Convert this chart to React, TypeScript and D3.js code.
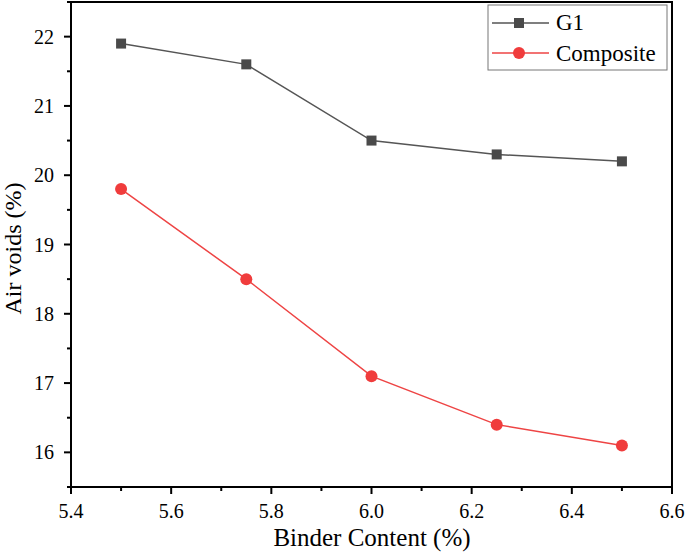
import React from "react";
import * as d3 from "d3";

const binder = [5.5, 5.75, 6.0, 6.25, 6.5];
const g1 = [21.9, 21.6, 20.5, 20.3, 20.2];
const composite = [19.8, 18.5, 17.1, 16.4, 16.1];
const xTicks = [5.4, 5.6, 5.8, 6.0, 6.2, 6.4, 6.6];
const yTicks = [16, 17, 18, 19, 20, 21, 22];

const W = 685;
const H = 555;
const m = { left: 71, right: 13, top: 2, bottom: 68 };
const font = "'Liberation Serif', 'Times New Roman', serif";

const App = () => {
  const x = d3.scaleLinear().domain([5.4, 6.6]).range([m.left, W - m.right]);
  const y = d3.scaleLinear().domain([15.5, 22.5]).range([H - m.bottom, m.top]);
  const line = d3
    .line<number>()
    .x((d, i) => x(binder[i]))
    .y(d => y(d));

  const xMinor = d3.range(5.5, 6.6, 0.2);
  const yMinor = d3.range(15.5, 22.6, 1);
  const bottom = H - m.bottom;

  return (
    <div style={{ position: "absolute", left: 0, top: 0 }}>
      <svg width={W} height={H} style={{ display: "block", background: "#fff" }}>
        {/* frame */}
        <rect
          x={m.left}
          y={m.top}
          width={W - m.left - m.right}
          height={bottom - m.top}
          fill="none"
          stroke="#000"
          strokeWidth={2}
        />
        {/* x ticks */}
        {xTicks.map(t => (
          <g key={"x" + t}>
            <line x1={x(t)} x2={x(t)} y1={bottom} y2={bottom + 7} stroke="#000" strokeWidth={2} />
            <text x={x(t)} y={bottom + 31} textAnchor="middle" fontFamily={font} fontSize={20}>
              {d3.format(".1f")(t)}
            </text>
          </g>
        ))}
        {xMinor.map(t => (
          <line key={"xm" + t} x1={x(t)} x2={x(t)} y1={bottom} y2={bottom + 4} stroke="#000" strokeWidth={2} />
        ))}
        {/* y ticks */}
        {yTicks.map(t => (
          <g key={"y" + t}>
            <line x1={m.left - 7} x2={m.left} y1={y(t)} y2={y(t)} stroke="#000" strokeWidth={2} />
            <text x={m.left - 17} y={y(t)} dy="0.35em" textAnchor="end" fontFamily={font} fontSize={20}>
              {t}
            </text>
          </g>
        ))}
        {yMinor.map(t => (
          <line key={"ym" + t} x1={m.left - 4} x2={m.left} y1={y(t)} y2={y(t)} stroke="#000" strokeWidth={2} />
        ))}
        {/* axis titles */}
        <text x={372} y={546} textAnchor="middle" fontFamily={font} fontSize={25}>
          Binder Content (%)
        </text>
        <text
          transform={`translate(21, ${(m.top + bottom) / 2 + 4}) rotate(-90)`}
          textAnchor="middle"
          fontFamily={font}
          fontSize={24}
        >
          Air voids (%)
        </text>
        {/* series */}
        <path d={line(g1) ?? ""} fill="none" stroke="#555" strokeWidth={1.5} />
        {g1.map((v, i) => (
          <rect key={"g" + i} x={x(binder[i]) - 5} y={y(v) - 5} width={10} height={10} fill="#4a4a4a" />
        ))}
        <path d={line(composite) ?? ""} fill="none" stroke="#ee4444" strokeWidth={1.5} />
        {composite.map((v, i) => (
          <circle key={"c" + i} cx={x(binder[i])} cy={y(v)} r={6} fill="#f03c3c" />
        ))}
        {/* legend */}
        <g>
          <rect x={488} y={5} width={179} height={65} fill="#fff" stroke="#777" strokeWidth={1} />
          <line x1={492} x2={549} y1={23} y2={23} stroke="#555" strokeWidth={1.5} />
          <rect x={514} y={18} width={10} height={10} fill="#4a4a4a" />
          <text x={556} y={30} fontFamily={font} fontSize={23}>G1</text>
          <line x1={492} x2={549} y1={53} y2={53} stroke="#ee4444" strokeWidth={1.5} />
          <circle cx={519} cy={53} r={6} fill="#f03c3c" />
          <text x={556} y={61} fontFamily={font} fontSize={23}>Composite</text>
        </g>
      </svg>
    </div>
  );
};

export default App;
